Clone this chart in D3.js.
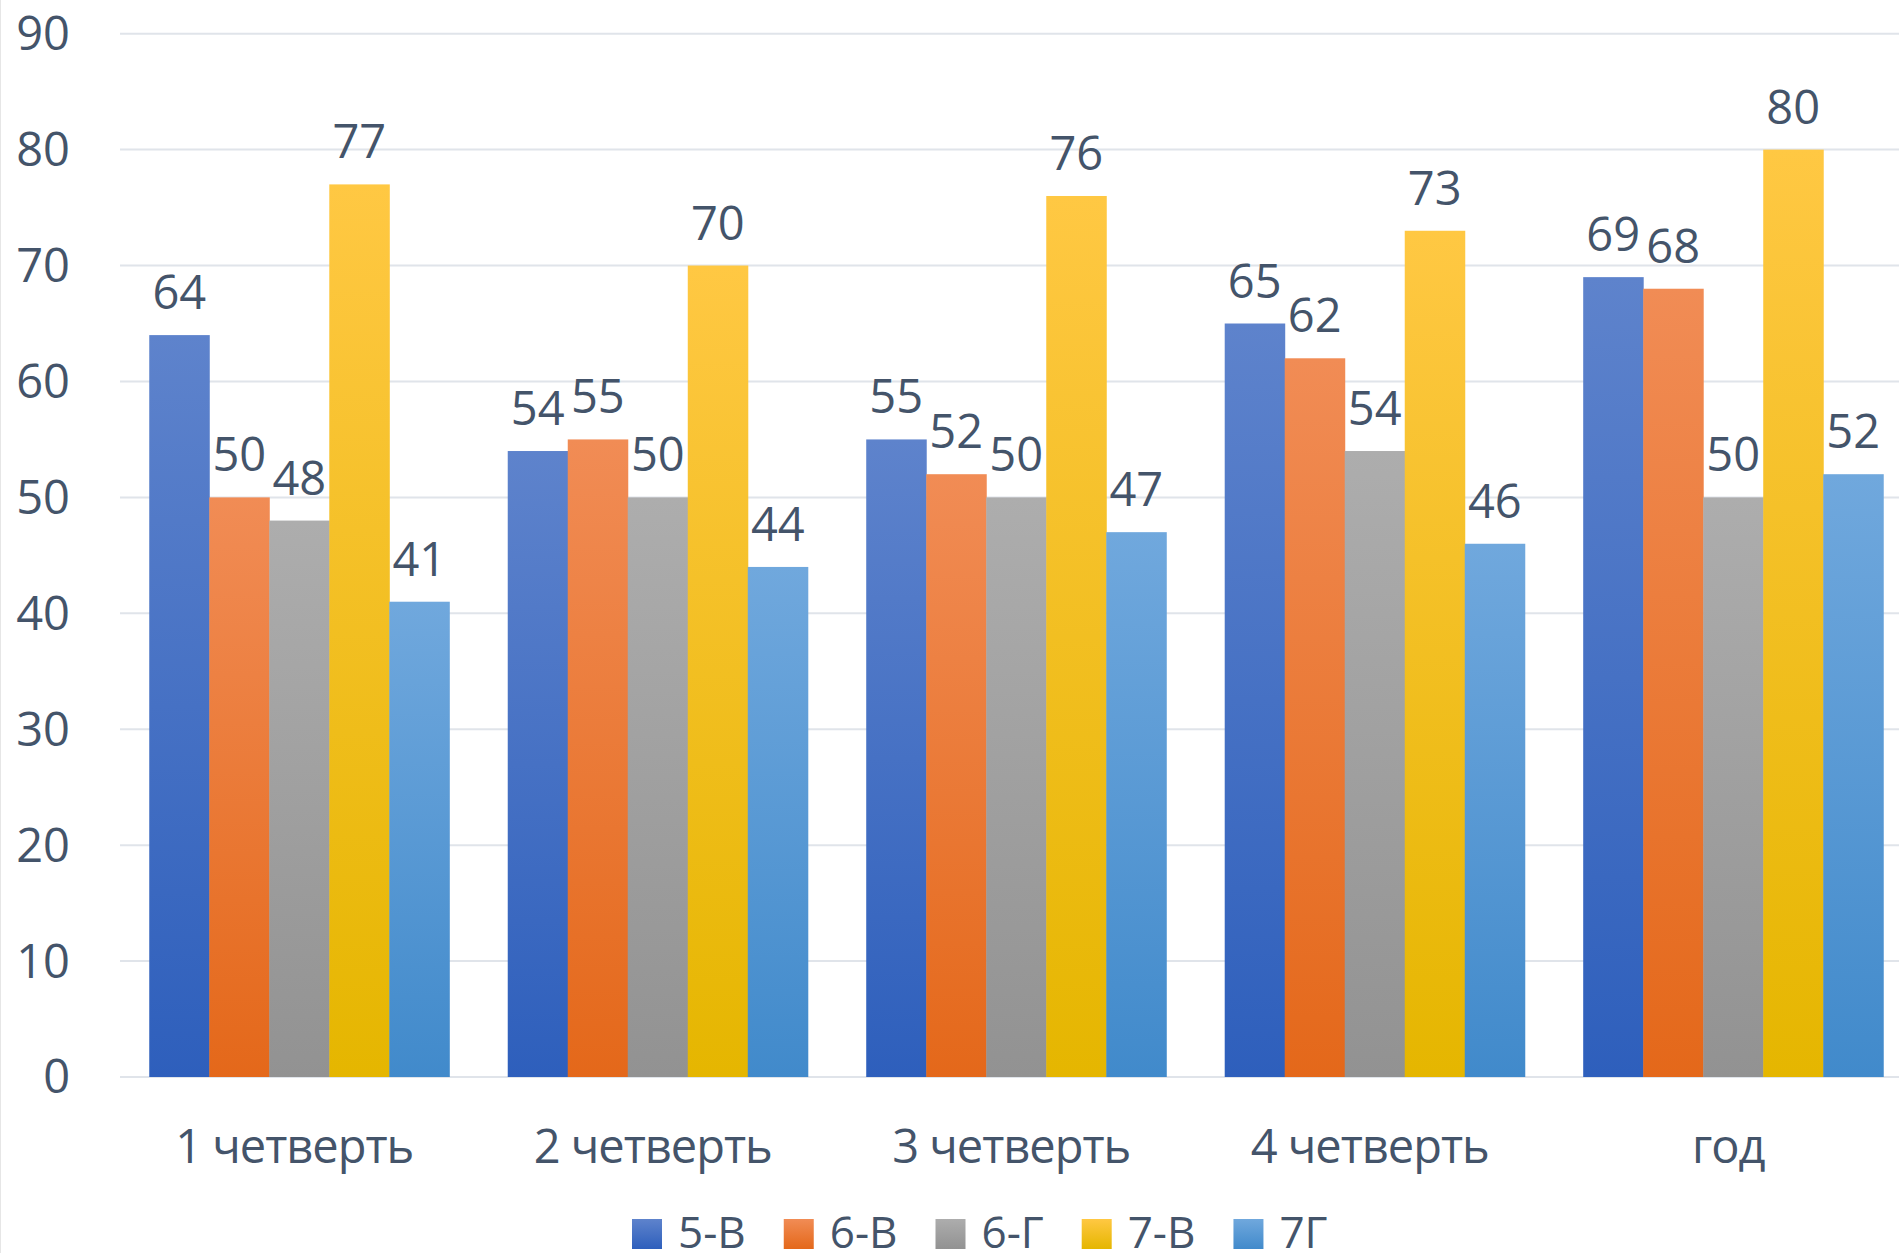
<!DOCTYPE html>
<html>
<head>
<meta charset="utf-8">
<script src="https://cdn.jsdelivr.net/npm/d3@7"></script>
<style>
  html, body { margin: 0; padding: 0; background: #ffffff; }
  svg { display: block; font-family: "Open Sans", "Noto Sans", sans-serif; }
</style>
</head>
<body>
<div id="chart"></div>
<script>
// chart data
var categories = ["1 четверть", "2 четверть", "3 четверть", "4 четверть", "год"];
var seriesNames = ["5-В", "6-В", "6-Г", "7-В", "7Г"];
var s5V = [64, 54, 55, 65, 69];
var s6V = [50, 55, 52, 62, 68];
var s6G = [48, 50, 50, 54, 50];
var s7V = [77, 70, 76, 73, 80];
var s7G = [41, 44, 47, 46, 52];
var yTicks = [0, 10, 20, 30, 40, 50, 60, 70, 80, 90];

var seriesValues = [s5V, s6V, s6G, s7V, s7G];
// gradient colours, top and bottom
var topColors = ["#5e83cc", "#f18c55", "#adadad", "#ffc843", "#70a8dd"];
var bottomColors = ["#2e5fbc", "#e4681a", "#929292", "#e5b600", "#418acb"];

var W = 1899, H = 1253;
var textColor = "#44546a";
var fontSize = 47;

var svg = d3.select("#chart").append("svg")
  .attr("width", W)
  .attr("height", H);

var defs = svg.append("defs");
seriesNames.forEach(function(name, i) {
  var g = defs.append("linearGradient")
    .attr("id", "grad" + i)
    .attr("x1", 0).attr("y1", 0).attr("x2", 0).attr("y2", 1);
  g.append("stop").attr("offset", "0%").attr("stop-color", topColors[i]);
  g.append("stop").attr("offset", "100%").attr("stop-color", bottomColors[i]);
});

// faint border on the left
svg.append("line")
  .attr("x1", 0.5).attr("x2", 0.5)
  .attr("y1", 0).attr("y2", H)
  .style("stroke", "#e6e6e6")
  .style("stroke-width", 1);

var y = d3.scaleLinear().domain([0, 90]).range([1077, 33.7]);

var x0 = d3.scaleBand()
  .domain(categories)
  .range([120, 1912.5])
  .paddingInner(0.163)
  .paddingOuter(0.0816);

var x1 = d3.scaleBand()
  .domain(d3.range(seriesNames.length))
  .range([0, x0.bandwidth()]);

// gridlines
svg.append("g").selectAll("line")
  .data(yTicks)
  .enter()
  .append("line")
    .attr("x1", 120)
    .attr("x2", W)
    .attr("y1", function(d) { return y(d); })
    .attr("y2", function(d) { return y(d); })
    .style("stroke", "#e0e4ea")
    .style("stroke-width", 2);

// y tick labels
svg.append("g").selectAll("text")
  .data(yTicks)
  .enter()
  .append("text")
    .attr("x", 70)
    .attr("y", function(d) { return y(d); })
    .attr("dy", "0.35em")
    .attr("text-anchor", "end")
    .style("font-size", fontSize + "px")
    .style("fill", textColor)
    .text(function(d) { return d; });

// bars
var groups = svg.append("g").selectAll("g")
  .data(categories)
  .enter()
  .append("g")
    .attr("transform", function(d) { return "translate(" + x0(d) + ",0)"; });

groups.selectAll("rect")
  .data(function(d, ci) {
    return seriesValues.map(function(vals, si) { return { s: si, v: vals[ci] }; });
  })
  .enter()
  .append("rect")
    .attr("x", function(d) { return x1(d.s); })
    .attr("width", x1.bandwidth() + 0.5)
    .attr("y", function(d) { return y(d.v); })
    .attr("height", function(d) { return y(0) - y(d.v); })
    .style("fill", function(d) { return "url(#grad" + d.s + ")"; });

// value labels
groups.selectAll("text")
  .data(function(d, ci) {
    return seriesValues.map(function(vals, si) { return { s: si, v: vals[ci] }; });
  })
  .enter()
  .append("text")
    .attr("x", function(d) { return x1(d.s) + x1.bandwidth() / 2; })
    .attr("y", function(d) { return y(d.v) - 26; })
    .attr("text-anchor", "middle")
    .style("font-size", fontSize + "px")
    .style("fill", textColor)
    .text(function(d) { return d.v; });

// category labels
svg.append("g").selectAll("text")
  .data(categories)
  .enter()
  .append("text")
    .attr("x", function(d) { return x0(d) + x0.bandwidth() / 2 - 5; })
    .attr("y", 1163)
    .attr("text-anchor", "middle")
    .style("font-size", fontSize + "px")
    .style("letter-spacing", "-1px")
    .style("fill", textColor)
    .text(function(d) { return d; });

// legend
var legend = svg.append("g");
var lx = 632;
seriesNames.forEach(function(name, i) {
  legend.append("rect")
    .attr("x", lx)
    .attr("y", 1219)
    .attr("width", 30)
    .attr("height", 30)
    .style("fill", "url(#grad" + i + ")");
  var t = legend.append("text")
    .attr("x", lx + 46)
    .attr("y", 1248)
    .style("font-size", "44px")
    .style("fill", textColor)
    .text(name);
  lx += 46 + t.node().getComputedTextLength() + 38;
});
</script>
</body>
</html>
